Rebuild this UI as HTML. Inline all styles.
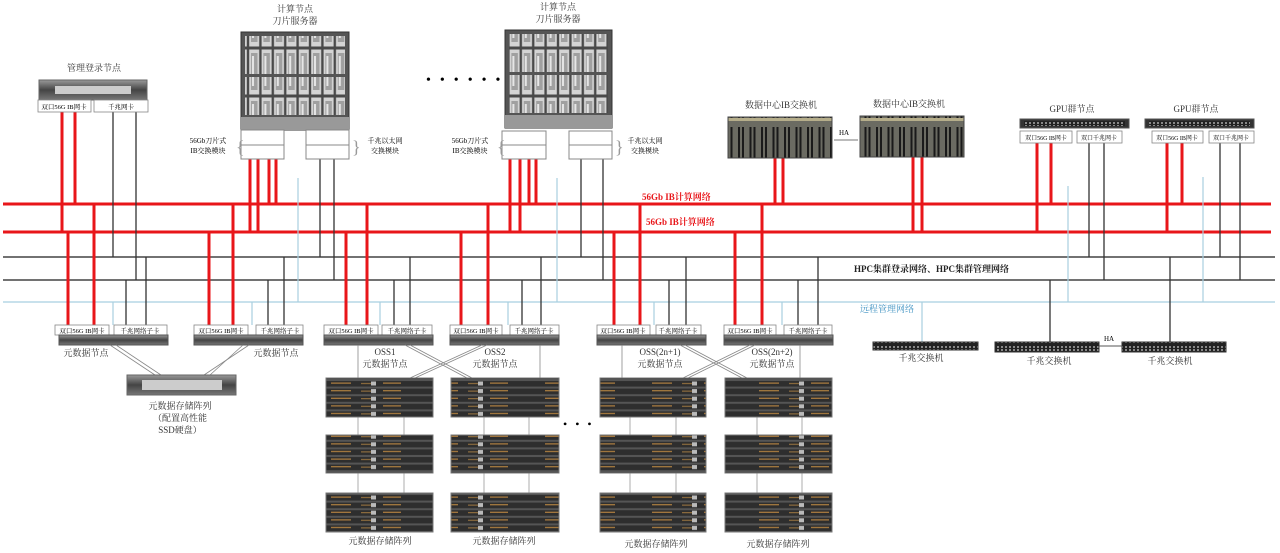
<!DOCTYPE html>
<html><head><meta charset="utf-8"><style>
html,body{margin:0;padding:0;background:#fff;width:1280px;height:553px;overflow:hidden}
text{font-family:"Liberation Serif","Noto Serif CJK SC","Noto Sans CJK SC",serif;}
</style></head><body>
<svg width="1280" height="553" viewBox="0 0 1280 553" xmlns="http://www.w3.org/2000/svg">
<defs>
<pattern id="blade" x="0" y="0" width="12.4" height="48" patternUnits="userSpaceOnUse">
<rect width="12.4" height="48" fill="#4a4a4a"/>
<rect x="1.2" y="1.5" width="10" height="45" fill="#d4d4d4"/>
<rect x="3" y="5" width="6.5" height="37" fill="#a0a0a0"/>
<rect x="4" y="8" width="2" height="30" fill="#e6e6e6"/>
</pattern>
<pattern id="ibsw" x="0" y="0" width="11.5" height="41" patternUnits="userSpaceOnUse">
<rect width="11.5" height="41" fill="#6b6b62"/>
<rect x="2" y="4" width="2" height="33" fill="#1a1a1a"/>
<rect x="6" y="4" width="2" height="33" fill="#1a1a1a"/>
<rect x="0" y="36" width="11.5" height="3" fill="#b5ad8a"/>
</pattern>
<pattern id="disk" x="0" y="0" width="107" height="7.6" patternUnits="userSpaceOnUse">
<rect width="107" height="7.6" fill="#555"/>
<rect x="0" y="1" width="107" height="5.6" fill="#2e2e2e"/>
<rect x="10" y="2.5" width="20" height="1.2" fill="#b08040"/>
<rect x="40" y="3" width="14" height="1" fill="#a07840"/>
<rect x="62" y="2.5" width="18" height="1.2" fill="#b08040"/>
<rect x="50" y="1.5" width="5" height="4" fill="#bbb"/>
</pattern>
<pattern id="port" x="0" y="0" width="4" height="8" patternUnits="userSpaceOnUse">
<rect width="4" height="8" fill="#222"/><rect x="1" y="2" width="2" height="2" fill="#888"/><rect x="1" y="5" width="2" height="2" fill="#888"/>
</pattern>
<linearGradient id="chas" x1="0" y1="0" x2="0" y2="1"><stop offset="0" stop-color="#9a9a9a"/><stop offset="0.5" stop-color="#444"/><stop offset="1" stop-color="#777"/></linearGradient>
</defs>

<g stroke-width="3" stroke="#e8161a">
<line x1="3" y1="204" x2="1271" y2="204"/>
<line x1="3" y1="232" x2="1271" y2="232"/>
</g>
<g stroke="#444" stroke-width="1.5">
<line x1="3" y1="257" x2="1275" y2="257"/>
<line x1="3" y1="280" x2="1275" y2="280"/>
</g>
<line x1="3" y1="302" x2="1275" y2="302" stroke="#a8cfe0" stroke-width="1.2"/>

<g stroke="#a8cfe0" stroke-width="1.2">
<line x1="298" y1="178" x2="298" y2="302"/>
<line x1="557" y1="178" x2="557" y2="302"/>
<line x1="1068" y1="186" x2="1068" y2="302"/>
<line x1="1203" y1="177" x2="1203" y2="302"/>
<line x1="113" y1="302" x2="113" y2="325"/>
<line x1="252" y1="302" x2="252" y2="325"/>
<line x1="380" y1="302" x2="380" y2="325"/>
<line x1="508" y1="302" x2="508" y2="325"/>
<line x1="654" y1="302" x2="654" y2="325"/>
<line x1="782" y1="302" x2="782" y2="325"/>
<line x1="922" y1="302" x2="922" y2="342"/>
</g>

<g stroke="#e8161a" stroke-width="3">
<line x1="62" y1="112" x2="62" y2="232"/><line x1="75" y1="112" x2="75" y2="204"/>
<line x1="250" y1="159" x2="250" y2="232"/><line x1="258" y1="159" x2="258" y2="232"/>
<line x1="269" y1="145" x2="269" y2="204"/><line x1="276" y1="145" x2="276" y2="204"/>
<line x1="510" y1="159" x2="510" y2="232"/><line x1="520" y1="159" x2="520" y2="232"/>
<line x1="529" y1="145" x2="529" y2="204"/><line x1="536" y1="145" x2="536" y2="204"/>
<line x1="775" y1="158" x2="775" y2="204"/><line x1="783" y1="158" x2="783" y2="204"/>
<line x1="913" y1="157" x2="913" y2="232"/><line x1="922" y1="157" x2="922" y2="232"/>
<line x1="1037" y1="143" x2="1037" y2="232"/><line x1="1051" y1="143" x2="1051" y2="204"/>
<line x1="1167" y1="143" x2="1167" y2="232"/><line x1="1182" y1="143" x2="1182" y2="204"/>
<line x1="68" y1="232" x2="68" y2="325"/><line x1="94" y1="204" x2="94" y2="325"/>
<line x1="209" y1="232" x2="209" y2="325"/><line x1="233" y1="204" x2="233" y2="325"/>
<line x1="346" y1="232" x2="346" y2="325"/><line x1="367" y1="204" x2="367" y2="325"/>
<line x1="461" y1="232" x2="461" y2="325"/><line x1="488" y1="204" x2="488" y2="325"/>
<line x1="614" y1="232" x2="614" y2="325"/><line x1="640" y1="204" x2="640" y2="325"/>
<line x1="735" y1="232" x2="735" y2="325"/><line x1="762" y1="204" x2="762" y2="325"/>
</g>

<g stroke="#333" stroke-width="1.3">
<line x1="113" y1="112" x2="113" y2="257"/><line x1="136" y1="112" x2="136" y2="280"/>
<line x1="320" y1="152" x2="320" y2="257"/><line x1="334" y1="140" x2="334" y2="280"/>
<line x1="581" y1="152" x2="581" y2="257"/><line x1="603" y1="140" x2="603" y2="280"/>
<line x1="1089" y1="143" x2="1089" y2="257"/><line x1="1104" y1="143" x2="1104" y2="280"/>
<line x1="1220" y1="143" x2="1220" y2="257"/><line x1="1240" y1="143" x2="1240" y2="280"/>
<line x1="126" y1="280" x2="126" y2="325"/><line x1="146" y1="257" x2="146" y2="325"/>
<line x1="268" y1="280" x2="268" y2="325"/><line x1="284" y1="257" x2="284" y2="325"/>
<line x1="394" y1="280" x2="394" y2="325"/><line x1="410" y1="257" x2="410" y2="325"/>
<line x1="522" y1="280" x2="522" y2="325"/><line x1="541" y1="257" x2="541" y2="325"/>
<line x1="669" y1="280" x2="669" y2="325"/><line x1="686" y1="257" x2="686" y2="325"/>
<line x1="798" y1="280" x2="798" y2="325"/><line x1="818" y1="257" x2="818" y2="325"/>
<line x1="1050" y1="280" x2="1050" y2="342"/><line x1="1170" y1="257" x2="1170" y2="342"/>
</g>

<text x="94" y="71" font-size="9" text-anchor="middle" fill="#333">管理登录节点</text>
<rect x="39" y="80" width="108" height="20" fill="url(#chas)" stroke="#666"/>
<rect x="55" y="86" width="76" height="8" fill="#ccc"/>
<rect x="38" y="100" width="53" height="12" fill="#fff" stroke="#888" stroke-width="0.8"/>
<rect x="94" y="100" width="54" height="12" fill="#fff" stroke="#888" stroke-width="0.8"/>
<text x="64" y="109" font-size="6.5" text-anchor="middle">双口56G IB网卡</text>
<text x="121" y="109" font-size="6.5" text-anchor="middle">千兆网卡</text>

<text x="295" y="12" font-size="9" text-anchor="middle" fill="#333">计算节点</text>
<text x="295" y="24" font-size="9" text-anchor="middle" fill="#333">刀片服务器</text>
<rect x="241" y="32" width="108" height="98" fill="#555" stroke="#333"/>
<rect x="245" y="36" width="100" height="38" fill="url(#blade)"/>
<rect x="245" y="77" width="100" height="38" fill="url(#blade)"/>
<rect x="241" y="117" width="108" height="13" fill="#999"/>
<rect x="241" y="130" width="43" height="29" fill="#fff" stroke="#888"/>
<line x1="241" y1="145" x2="284" y2="145" stroke="#888"/>
<rect x="306" y="130" width="43" height="29" fill="#fff" stroke="#888"/>
<line x1="306" y1="145" x2="349" y2="145" stroke="#888"/>
<text x="208" y="143" font-size="7" text-anchor="middle">56Gb刀片式</text>
<text x="208" y="153" font-size="7" text-anchor="middle">IB交换模块</text>
<text x="236" y="153" font-size="18" fill="#999">{</text>
<text x="352" y="153" font-size="18" fill="#999">}</text>
<text x="385" y="143" font-size="7" text-anchor="middle">千兆以太网</text>
<text x="385" y="153" font-size="7" text-anchor="middle">交换模块</text>

<text x="426" y="84" font-size="14" letter-spacing="9">••••••</text>

<text x="558" y="10" font-size="9" text-anchor="middle" fill="#333">计算节点</text>
<text x="558" y="22" font-size="9" text-anchor="middle" fill="#333">刀片服务器</text>
<rect x="505" y="30" width="107" height="98" fill="#555" stroke="#333"/>
<rect x="509" y="34" width="99" height="38" fill="url(#blade)"/>
<rect x="509" y="75" width="99" height="38" fill="url(#blade)"/>
<rect x="505" y="115" width="107" height="13" fill="#999"/>
<rect x="502" y="131" width="44" height="28" fill="#fff" stroke="#888"/>
<line x1="502" y1="145" x2="546" y2="145" stroke="#888"/>
<rect x="569" y="131" width="43" height="28" fill="#fff" stroke="#888"/>
<line x1="569" y1="145" x2="612" y2="145" stroke="#888"/>
<text x="470" y="143" font-size="7" text-anchor="middle">56Gb刀片式</text>
<text x="470" y="153" font-size="7" text-anchor="middle">IB交换模块</text>
<text x="497" y="153" font-size="18" fill="#999">{</text>
<text x="615" y="153" font-size="18" fill="#999">}</text>
<text x="645" y="143" font-size="7" text-anchor="middle">千兆以太网</text>
<text x="645" y="153" font-size="7" text-anchor="middle">交换模块</text>

<text x="781" y="108" font-size="9" text-anchor="middle" fill="#333">数据中心IB交换机</text>
<text x="909" y="107" font-size="9" text-anchor="middle" fill="#333">数据中心IB交换机</text>
<rect x="728" y="117" width="104" height="41" fill="url(#ibsw)" stroke="#444"/>
<rect x="860" y="116" width="104" height="41" fill="url(#ibsw)" stroke="#444"/>
<line x1="834" y1="140" x2="858" y2="140" stroke="#777"/>
<text x="844" y="135" font-size="7" text-anchor="middle">HA</text>

<text x="1072" y="112" font-size="9" text-anchor="middle" fill="#333">GPU群节点</text>
<rect x="1020" y="119" width="109" height="9" fill="#333" stroke="#555"/>
<rect x="1024" y="121" width="101" height="5" fill="url(#port)"/>
<rect x="1020" y="131" width="52" height="12" fill="#fff" stroke="#888" stroke-width="0.8"/>
<rect x="1077" y="131" width="45" height="12" fill="#fff" stroke="#888" stroke-width="0.8"/>
<text x="1046" y="140" font-size="6" text-anchor="middle">双口56G IB网卡</text>
<text x="1099" y="140" font-size="6" text-anchor="middle">双口千兆网卡</text>
<text x="1196" y="112" font-size="9" text-anchor="middle" fill="#333">GPU群节点</text>
<rect x="1145" y="119" width="109" height="9" fill="#333" stroke="#555"/>
<rect x="1149" y="121" width="101" height="5" fill="url(#port)"/>
<rect x="1152" y="131" width="51" height="12" fill="#fff" stroke="#888" stroke-width="0.8"/>
<rect x="1209" y="131" width="45" height="12" fill="#fff" stroke="#888" stroke-width="0.8"/>
<text x="1177" y="140" font-size="6" text-anchor="middle">双口56G IB网卡</text>
<text x="1231" y="140" font-size="6" text-anchor="middle">双口千兆网卡</text>

<text x="642" y="200" font-size="9" fill="#e8161a" font-weight="bold">56Gb IB计算网络</text>
<text x="646" y="225" font-size="9" fill="#e8161a" font-weight="bold">56Gb IB计算网络</text>
<text x="854" y="272" font-size="9" fill="#222" font-weight="bold">HPC集群登录网络、HPC集群管理网络</text>
<text x="860" y="312" font-size="9" fill="#3a8fc0">远程管理网络</text>

<g font-size="6.5" text-anchor="middle">
<rect x="55" y="325" width="54" height="10" fill="#fff" stroke="#888" stroke-width="0.8"/><text x="82" y="333">双口56G IB网卡</text>
<rect x="114" y="325" width="53" height="10" fill="#fff" stroke="#888" stroke-width="0.8"/><text x="140" y="333">千兆网络子卡</text>
<rect x="194" y="325" width="54" height="10" fill="#fff" stroke="#888" stroke-width="0.8"/><text x="221" y="333">双口56G IB网卡</text>
<rect x="256" y="325" width="47" height="10" fill="#fff" stroke="#888" stroke-width="0.8"/><text x="280" y="333">千兆网络子卡</text>
<rect x="324" y="325" width="54" height="10" fill="#fff" stroke="#888" stroke-width="0.8"/><text x="351" y="333">双口56G IB网卡</text>
<rect x="382" y="325" width="50" height="10" fill="#fff" stroke="#888" stroke-width="0.8"/><text x="407" y="333">千兆网络子卡</text>
<rect x="450" y="325" width="52" height="10" fill="#fff" stroke="#888" stroke-width="0.8"/><text x="476" y="333">双口56G IB网卡</text>
<rect x="510" y="325" width="49" height="10" fill="#fff" stroke="#888" stroke-width="0.8"/><text x="534" y="333">千兆网络子卡</text>
<rect x="597" y="325" width="53" height="10" fill="#fff" stroke="#888" stroke-width="0.8"/><text x="623" y="333">双口56G IB网卡</text>
<rect x="656" y="325" width="45" height="10" fill="#fff" stroke="#888" stroke-width="0.8"/><text x="678" y="333">千兆网络子卡</text>
<rect x="724" y="325" width="52" height="10" fill="#fff" stroke="#888" stroke-width="0.8"/><text x="750" y="333">双口56G IB网卡</text>
<rect x="784" y="325" width="48" height="10" fill="#fff" stroke="#888" stroke-width="0.8"/><text x="808" y="333">千兆网络子卡</text>
</g>
<g fill="url(#chas)" stroke="#555">
<rect x="59" y="335" width="109" height="10"/>
<rect x="194" y="335" width="109" height="10"/>
<rect x="324" y="335" width="109" height="10"/>
<rect x="450" y="335" width="109" height="10"/>
<rect x="597" y="335" width="109" height="10"/>
<rect x="724" y="335" width="109" height="10"/>
</g>

<g font-size="9" text-anchor="middle" fill="#333">
<text x="86" y="356">元数据节点</text>
<text x="276" y="356">元数据节点</text>
<text x="385" y="355">OSS1</text><text x="385" y="367">元数据节点</text>
<text x="495" y="355">OSS2</text><text x="495" y="367">元数据节点</text>
<text x="660" y="355">OSS(2n+1)</text><text x="660" y="367">元数据节点</text>
<text x="772" y="355">OSS(2n+2)</text><text x="772" y="367">元数据节点</text>
<text x="180" y="409">元数据存储阵列</text>
<text x="180" y="421">（配置高性能</text>
<text x="180" y="433">SSD硬盘）</text>
<text x="380" y="544">元数据存储阵列</text>
<text x="504" y="544">元数据存储阵列</text>
<text x="656" y="547">元数据存储阵列</text>
<text x="778" y="547">元数据存储阵列</text>
<text x="921" y="361">千兆交换机</text>
<text x="1049" y="364">千兆交换机</text>
<text x="1170" y="364">千兆交换机</text>
</g>

<g stroke="#888" stroke-width="0.8" fill="none">
<line x1="110" y1="345" x2="155" y2="375"/><line x1="116" y1="345" x2="161" y2="375"/>
<line x1="249" y1="345" x2="204" y2="375"/><line x1="243" y1="345" x2="210" y2="375"/>
<line x1="405" y1="345" x2="467" y2="378"/><line x1="410" y1="345" x2="472" y2="378"/>
<line x1="482" y1="345" x2="410" y2="378"/><line x1="487" y1="345" x2="415" y2="378"/>
<line x1="680" y1="345" x2="742" y2="378"/><line x1="685" y1="345" x2="747" y2="378"/>
<line x1="750" y1="345" x2="683" y2="378"/><line x1="755" y1="345" x2="688" y2="378"/>
<line x1="358" y1="345" x2="358" y2="378"/><line x1="540" y1="345" x2="540" y2="378"/>
<line x1="622" y1="345" x2="622" y2="378"/><line x1="800" y1="345" x2="800" y2="378"/>
</g>
<rect x="127" y="375" width="109" height="20" fill="url(#chas)" stroke="#666"/>
<rect x="142" y="380" width="80" height="10" fill="#ccc"/>

<g stroke="#999" stroke-width="0.8">
<line x1="358" y1="417" x2="358" y2="493"/><line x1="404" y1="417" x2="404" y2="493"/>
<line x1="484" y1="417" x2="484" y2="493"/><line x1="529" y1="417" x2="529" y2="493"/>
<line x1="630" y1="417" x2="630" y2="493"/><line x1="676" y1="417" x2="676" y2="493"/>
<line x1="757" y1="417" x2="757" y2="493"/><line x1="802" y1="417" x2="802" y2="493"/>
</g>
<g stroke="#777" fill="url(#disk)">
<rect x="326" y="378" width="107" height="39"/><rect x="326" y="435" width="107" height="38"/><rect x="326" y="493" width="107" height="39"/>
<rect x="451" y="378" width="108" height="39"/><rect x="451" y="435" width="108" height="38"/><rect x="451" y="493" width="108" height="39"/>
<rect x="600" y="378" width="106" height="39"/><rect x="600" y="435" width="106" height="38"/><rect x="600" y="493" width="106" height="39"/>
<rect x="725" y="378" width="107" height="39"/><rect x="725" y="435" width="107" height="38"/><rect x="725" y="493" width="107" height="39"/>
</g>
<text x="563" y="428" font-size="12" letter-spacing="8">•••</text>

<rect x="873" y="342" width="105" height="8" fill="url(#port)" stroke="#333"/>
<rect x="995" y="342" width="104" height="10" fill="url(#port)" stroke="#333"/>
<rect x="1122" y="342" width="104" height="10" fill="url(#port)" stroke="#333"/>
<line x1="1099" y1="346" x2="1122" y2="346" stroke="#555"/>
<text x="1109" y="341" font-size="7" text-anchor="middle">HA</text>
</svg>
</body></html>
